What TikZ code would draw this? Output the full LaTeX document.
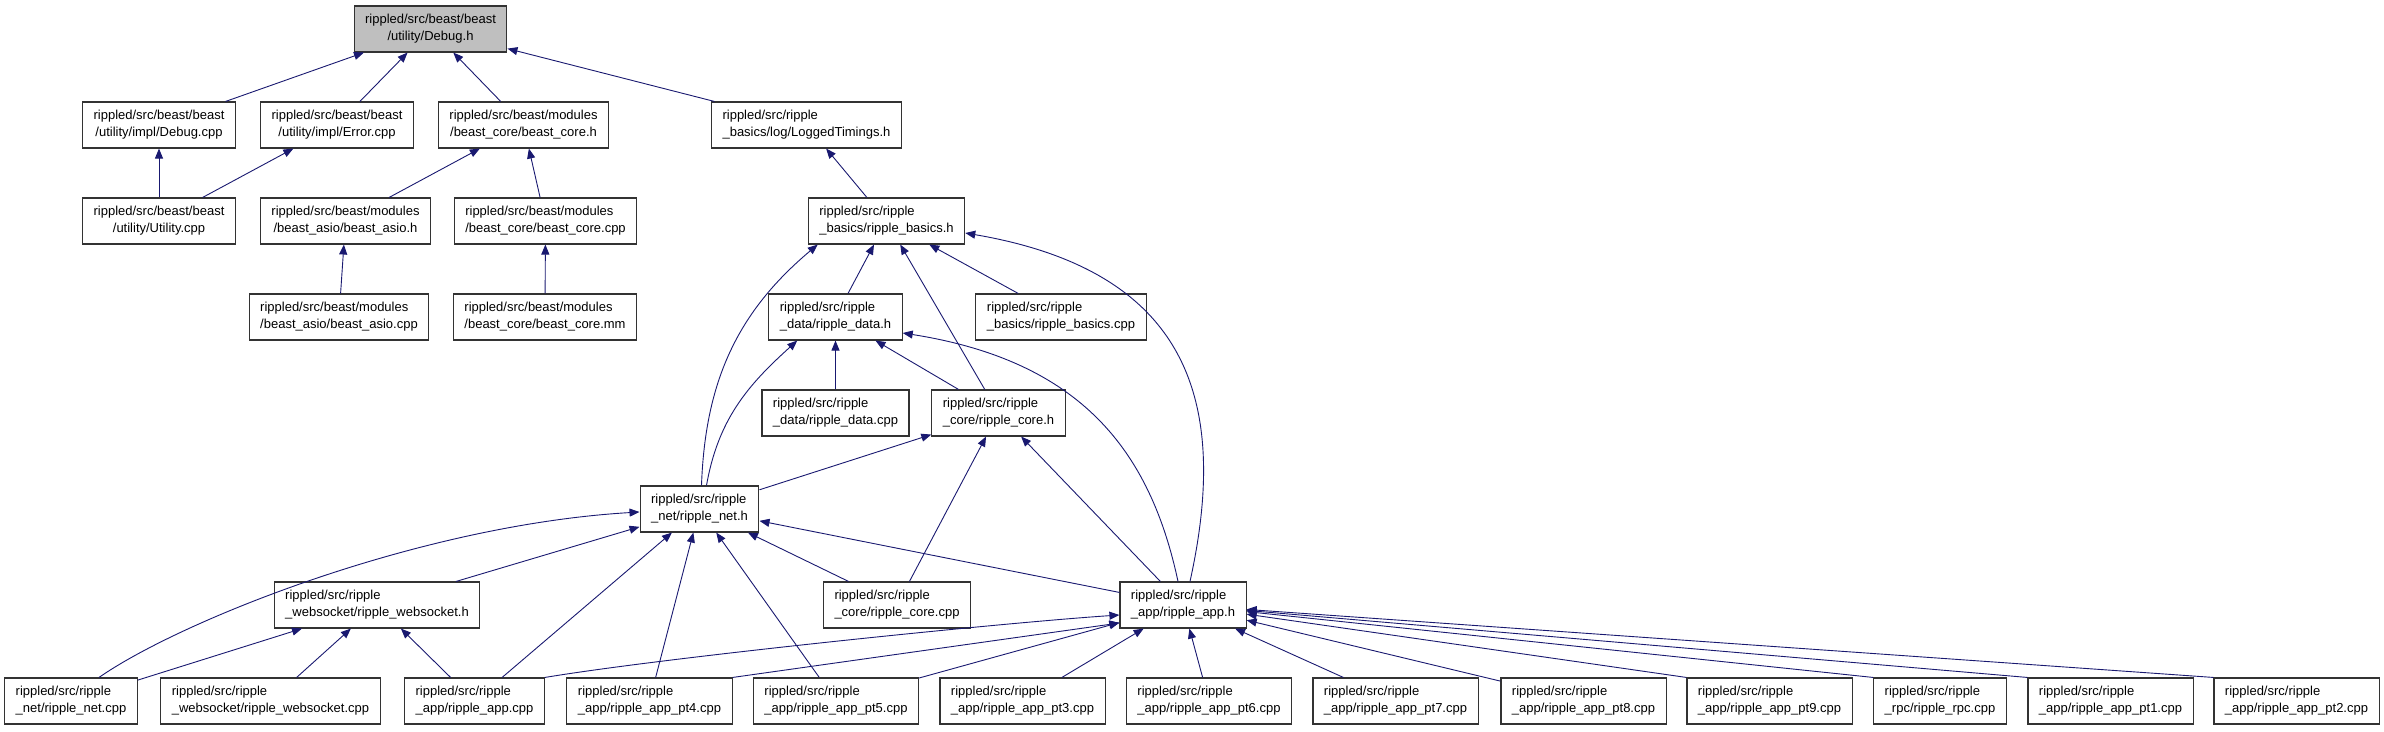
\documentclass[tikz,border=0pt]{standalone}
\usepackage{fontspec}
\setmainfont{Liberation Sans}
\usetikzlibrary{arrows.meta}
\definecolor{navy}{HTML}{191970}
\tikzset{
  file/.style={draw=black!80, line width=1.1pt, minimum height=46pt,
               inner xsep=11pt, inner ysep=3pt, align=left,
               font=\fontsize{13}{17}\selectfont},
  filemid/.style={file, align=center},
  curfile/.style={filemid, fill=black!25},
  incl/.style={navy, line width=0.9pt, -{Triangle[length=10pt,width=8pt]}}
}
\begin{document}
\begin{tikzpicture}[x=1pt,y=1pt]
  \useasboundingbox (0,0) rectangle (2384,731);

  % beast files
  \node[curfile] (debugh) at (430.5,702) {rippled/src/beast/beast\\/utility/Debug.h};
  \node[filemid] (debugcpp) at (159,606) {rippled/src/beast/beast\\/utility/impl/Debug.cpp};
  \node[filemid] (errorcpp) at (337,606) {rippled/src/beast/beast\\/utility/impl/Error.cpp};
  \node[filemid] (beastcoreh) at (523.5,606) {rippled/src/beast/modules\\/beast\_core/beast\_core.h};
  \node[filemid] (utilitycpp) at (159,510) {rippled/src/beast/beast\\/utility/Utility.cpp};
  \node[filemid] (beastasioh) at (345.5,510) {rippled/src/beast/modules\\/beast\_asio/beast\_asio.h};
  \node[file] (beastcorecpp) at (545.5,510) {rippled/src/beast/modules\\/beast\_core/beast\_core.cpp};
  \node[file] (beastasiocpp) at (339,414) {rippled/src/beast/modules\\/beast\_asio/beast\_asio.cpp};
  \node[file] (beastcoremm) at (545,414) {rippled/src/beast/modules\\/beast\_core/beast\_core.mm};

  % ripple files
  \node[file] (loggedtimings) at (806.5,606) {rippled/src/ripple\\\_basics/log/LoggedTimings.h};
  \node[file] (basicsh) at (886.5,510) {rippled/src/ripple\\\_basics/ripple\_basics.h};
  \node[file] (datah) at (835.5,414) {rippled/src/ripple\\\_data/ripple\_data.h};
  \node[file] (basicscpp) at (1061,414) {rippled/src/ripple\\\_basics/ripple\_basics.cpp};
  \node[file] (datacpp) at (835.5,318) {rippled/src/ripple\\\_data/ripple\_data.cpp};
  \node[file] (coreh) at (998.5,318) {rippled/src/ripple\\\_core/ripple\_core.h};
  \node[file] (neth) at (699.5,222) {rippled/src/ripple\\\_net/ripple\_net.h};
  \node[file] (websocketh) at (377,126) {rippled/src/ripple\\\_websocket/ripple\_websocket.h};
  \node[file] (corecpp) at (897,126) {rippled/src/ripple\\\_core/ripple\_core.cpp};
  \node[file] (apph) at (1183,126) {rippled/src/ripple\\\_app/ripple\_app.h};

  % bottom row
  \foreach \x/\n/\t in {
    71/netcpp/{\_net/ripple\_net.cpp},
    270.5/websocketcpp/{\_websocket/ripple\_websocket.cpp},
    474.5/appcpp/{\_app/ripple\_app.cpp},
    649.5/pt4/{\_app/ripple\_app\_pt4.cpp},
    836/pt5/{\_app/ripple\_app\_pt5.cpp},
    1022.5/pt3/{\_app/ripple\_app\_pt3.cpp},
    1209/pt6/{\_app/ripple\_app\_pt6.cpp},
    1395.5/pt7/{\_app/ripple\_app\_pt7.cpp},
    1583.5/pt8/{\_app/ripple\_app\_pt8.cpp},
    1769.5/pt9/{\_app/ripple\_app\_pt9.cpp},
    1940/rpccpp/{\_rpc/ripple\_rpc.cpp},
    2110.5/pt1/{\_app/ripple\_app\_pt1.cpp},
    2296.5/pt2/{\_app/ripple\_app\_pt2.cpp}}{
    \node[file] (\n) at (\x,30) {rippled/src/ripple\\\t};
  }

  % includes, beast
  \foreach \n in {debugcpp,errorcpp,beastcoreh,loggedtimings}
    \draw[incl] (\n) -- (debugh);
  \draw[incl] (utilitycpp) -- (debugcpp);
  \draw[incl] (utilitycpp) -- (errorcpp);
  \draw[incl] (beastasioh) -- (beastcoreh);
  \draw[incl] (beastcorecpp) -- (beastcoreh);
  \draw[incl] (beastasiocpp) -- (beastasioh);
  \draw[incl] (beastcoremm) -- (beastcorecpp);

  % includes, ripple
  \draw[incl] (basicsh) -- (loggedtimings);
  \foreach \n in {datah,basicscpp,coreh}
    \draw[incl] (\n) -- (basicsh);
  \draw[incl] (datacpp) -- (datah);
  \draw[incl] (coreh) -- (datah);
  \foreach \n in {neth,corecpp,apph}
    \draw[incl] (\n) -- (coreh);
  \foreach \n in {websocketh,corecpp,apph,appcpp,pt4,pt5}
    \draw[incl] (\n) -- (neth);
  \foreach \n in {netcpp,websocketcpp,appcpp}
    \draw[incl] (\n) -- (websocketh);
  \foreach \n in {pt5,pt3,pt6,pt7,pt8}
    \draw[incl] (\n) -- (apph);
  \foreach \n in {pt9,rpccpp,pt1,pt2}
    \draw[incl] (\n.north west) -- (apph);
  \draw[incl] (pt4.north east) -- ([yshift=-18pt]apph.west);

  % long curved includes
  \draw[incl] ([xshift=2pt]neth.north) to[out=88,in=-140] ([xshift=10pt]basicsh.south west);
  \draw[incl] ([xshift=7pt]neth.north) to[out=80,in=-138] ([xshift=29pt]datah.south west);
  \draw[incl] ([xshift=7pt]apph.north) .. controls +(40,181) and +(223,-38) .. ([yshift=-12pt]basicsh.east);
  \draw[incl] ([xshift=-5pt]apph.north) .. controls +(-28,131) and +(178,-28) .. ([yshift=-16pt]datah.east);
  \draw[incl] ([xshift=28pt]netcpp.north) .. controls +(82,57) and +(-220,-13) .. ([yshift=-3pt]neth.west);
  \draw[incl] (appcpp.north east) .. controls +(120,20) and +(-120,-8) .. ([yshift=-10pt]apph.west);
\end{tikzpicture}
\end{document}
